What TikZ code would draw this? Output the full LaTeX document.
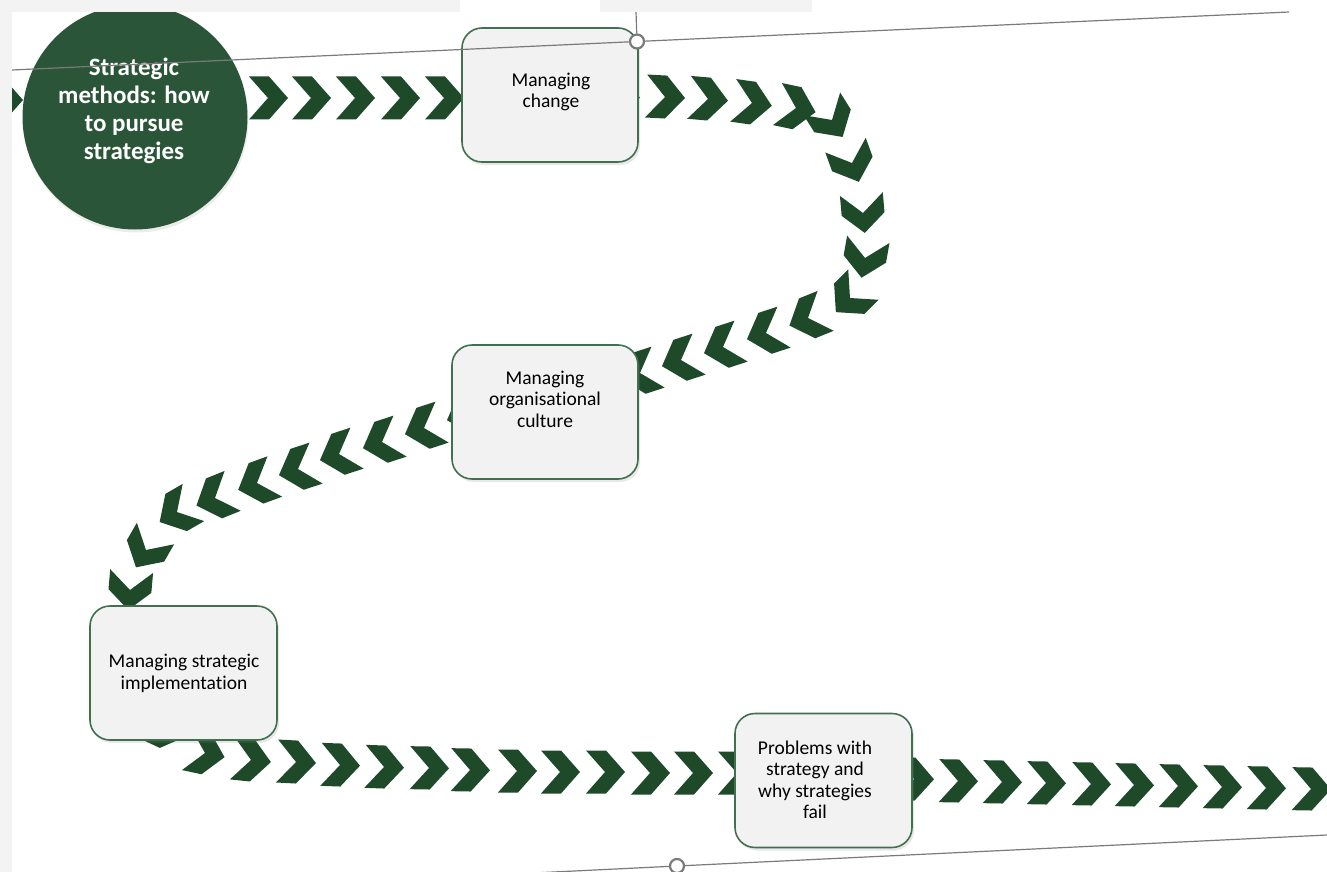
\documentclass[tikz,border=0pt]{standalone}
\usepackage{fontspec}
\setmainfont{Carlito}[Ligatures={NoCommon}]
\usetikzlibrary{shadows}
\definecolor{circgreen}{HTML}{2B5539}
\definecolor{chevgreen}{HTML}{1E4A29}
\definecolor{boxborder}{HTML}{41704F}
\definecolor{boxfill}{HTML}{F2F2F2}
\definecolor{bandgrey}{HTML}{F3F3F3}
\definecolor{handlegrey}{HTML}{7A7A7A}
\newcommand{\chevat}[3]{\fill[chevgreen,shift={(#1,#2)},rotate=-#3] (-19,-21.5) -- (1,-21.5) -- (20,0) -- (1,21.5) -- (-19,21.5) -- (0,0) -- cycle;}
\tikzset{
  procbox/.style={rectangle, rounded corners=20pt, draw=boxborder, line width=1.6pt, fill=boxfill,
    minimum width=176pt, minimum height=134pt, inner sep=0pt,
    drop shadow={shadow xshift=2pt, shadow yshift=-3pt, opacity=0.18}},
  boxtext/.style={align=center, inner sep=0pt, text=black, font=\fontsize{19.5}{21.5}\selectfont},
  circtext/.style={align=center, inner sep=0pt, text=white, font=\fontsize{25}{28}\selectfont\bfseries},
  guide/.style={draw=handlegrey, line width=1.2pt},
  handle/.style={circle, draw=handlegrey, fill=white, line width=2.2pt, minimum size=14pt, inner sep=0pt}
}
\begin{document}
\begin{tikzpicture}[x=1pt,y=-1pt]
\useasboundingbox (0,0) rectangle (1327,872);
\fill[white] (0,0) rectangle (1327,872);
% chevrons: top row
\chevat{3}{100}{0}
\chevat{268}{98}{0}\chevat{311}{98}{0}\chevat{355}{98}{0}\chevat{400}{98}{0}\chevat{444}{98}{0}
\chevat{620}{97}{2}
\chevat{665}{97}{3}\chevat{708}{99}{5}\chevat{752}{103}{8}\chevat{796}{108}{12}
\chevat{832}{120}{58}\chevat{852}{163}{70}\chevat{863}{213}{85}\chevat{865}{258}{100}
\chevat{850}{298}{135}\chevat{808}{318}{158}\chevat{766}{333}{162}\chevat{723}{347}{162}
\chevat{681}{360}{162}\chevat{640}{373}{162}
% middle row
\chevat{466}{414}{162}\chevat{424}{428}{162}\chevat{382}{442}{162}\chevat{339}{454}{162}
\chevat{298}{469}{162}\chevat{257}{483}{160}\chevat{215}{498}{158}\chevat{177}{512}{150}
\chevat{146}{550}{120}\chevat{130}{590}{95}
% bottom row
\chevat{168}{728}{25}\chevat{205}{753}{12}\chevat{251}{760}{6}\chevat{296}{762}{3}
\chevat{340}{765}{2}\chevat{384}{767}{2}\chevat{429}{768}{1}\chevat{470}{770}{1}
\chevat{517}{771}{0}\chevat{560}{772}{0}\chevat{605}{772}{0}\chevat{650}{773}{0}
\chevat{693}{773}{0}\chevat{737}{773}{0}\chevat{781}{775}{1}\chevat{825}{776}{1}
\chevat{870}{777}{1}\chevat{914}{779}{1}\chevat{958}{781}{1}\chevat{1002}{782}{1}
\chevat{1046}{783}{1}\chevat{1091}{784}{1}\chevat{1134}{785}{1}\chevat{1178}{786}{1}
\chevat{1222}{787}{1}\chevat{1266}{788}{1}\chevat{1311}{789}{1}
% start circle
\node[circle, fill=circgreen, minimum size=225pt, inner sep=0pt,
  drop shadow={shadow xshift=1pt, shadow yshift=-3pt, opacity=0.15}] (start) at (135,117) {};
\node[circtext] (starttext) at (134,111) {Strategic\\methods: how\\to pursue\\strategies};
% boxes
\node[procbox] (change) at (550,95) {};
\node[boxtext] (changetext) at (551,92) {Managing\\change};
\node[procbox, minimum width=186pt] (culture) at (545,412) {};
\node[boxtext] (culturetext) at (545,399) {Managing\\organisational\\culture};
\node[procbox, minimum width=187pt] (implement) at (183.5,673) {};
\node[boxtext] (implementtext) at (184,673.5) {Managing strategic\\implementation};
\node[procbox, minimum width=177pt] (problems) at (823.5,780.5) {};
\node[boxtext] (problemstext) at (815,780) {Problems with\\strategy and\\why strategies\\fail};
% selection guides
\coordinate (tl) at (12,70);
\coordinate (tr) at (1289,12);
\coordinate (vt) at (636,12);
\coordinate (bl) at (533,873);
\coordinate (br) at (1327,835);
\node[handle] (toph) at (637,41.5) {};
\node[handle] (both) at (677,866) {};
\draw[guide] (tl) -- (toph);
\draw[guide] (toph) -- (tr);
\draw[guide] (toph) -- (vt);
\draw[guide] (bl) -- (both);
\draw[guide] (both) -- (br);
% background bands
\fill[bandgrey] (0,0) rectangle (12,872);
\fill[bandgrey] (0,0) rectangle (460,12);
\fill[bandgrey] (600,0) rectangle (812,12);
\end{tikzpicture}
\end{document}
